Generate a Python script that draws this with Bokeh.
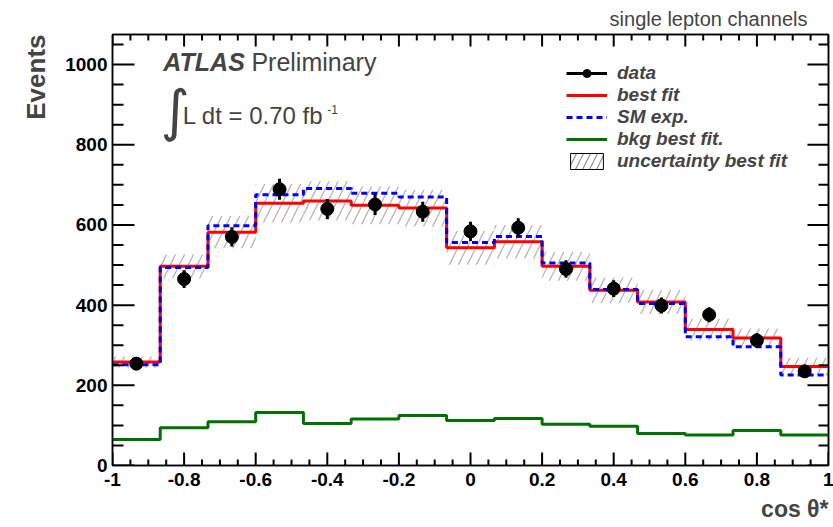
import math
from bokeh.plotting import figure
from bokeh.models import (Range1d, LinearAxis, SingleIntervalTicker, Legend, LegendItem,
                          Label, Title, ColumnDataSource, CustomJSTickFormatter)
from bokeh.embed import file_html
from bokeh.resources import INLINE

# ---- data ----
bin_edges = [-1.0, -0.8667, -0.7333, -0.6, -0.4667, -0.3333, -0.2, -0.0667,
             0.0667, 0.2, 0.3333, 0.4667, 0.6, 0.7333, 0.8667, 1.0]
data = [254, 465, 570, 689, 640, 651, 633, 584, 593, 490, 441, 399, 376, 312, 235]
data_err = [16, 22, 24, 26, 25, 26, 25, 24, 24, 22, 21, 20, 19, 18, 15]
best_fit = [258, 497, 582, 654, 660, 649, 642, 543, 558, 497, 437, 408, 339, 318, 247]
sm_exp = [251, 494, 598, 675, 691, 679, 670, 556, 571, 505, 439, 404, 321, 296, 226]
bkg_fit = [65, 94, 109, 132, 105, 116, 125, 112, 117, 103, 98, 80, 76, 87, 76]
fit_unc = [14, 30, 40, 48, 49, 47, 46, 42, 42, 36, 32, 30, 27, 24, 22]

# tick positions
x_major_ticks = [-1.0, -0.8, -0.6, -0.4, -0.2, 0.0, 0.2, 0.4, 0.6, 0.8, 1.0]
y_major_ticks = [0, 200, 400, 600, 800, 1000]
n_minor = 4

FONT = "Liberation Sans"
X0, X1, Y0, Y1 = -1.0, 1.0, 0.0, 1075.0

lefts = bin_edges[:-1]
rights = bin_edges[1:]
centers = [(a + b) / 2 for a, b in zip(lefts, rights)]

src = ColumnDataSource(dict(
    x=centers, y=data,
    lo=[d - e for d, e in zip(data, data_err)],
    hi=[d + e for d, e in zip(data, data_err)],
))
band_src = ColumnDataSource(dict(
    left=lefts, right=rights,
    bottom=[f - u for f, u in zip(best_fit, fit_unc)],
    top=[f + u for f, u in zip(best_fit, fit_unc)],
))

p = figure(width=833, height=527, x_range=Range1d(X0, X1), y_range=Range1d(Y0, Y1),
           output_backend="svg", toolbar_location=None,
           x_axis_type=None, y_axis_type=None,
           min_border_left=112, min_border_right=5, min_border_top=33, min_border_bottom=62)
p.outline_line_color = "black"
p.outline_line_width = 1.5
p.background_fill_color = "white"
p.border_fill_color = "white"

def make_axis(ticker, labels):
    ax = LinearAxis(ticker=ticker, axis_line_width=1.5,
                    major_tick_in=0, major_tick_out=0, minor_tick_in=0, minor_tick_out=0)
    if labels:
        ax.formatter = CustomJSTickFormatter(code="""
            const s = tick.toFixed(1).replace(/\\.0$/, '');
            return s === '-0' ? '0' : s;""")
        ax.major_label_text_font = FONT
        ax.major_label_text_font_style = "bold"
        ax.major_label_text_font_size = "19px"
        ax.major_label_text_color = "black"
    else:
        ax.formatter = CustomJSTickFormatter(code="return '';")
        ax.major_label_text_font_size = "0px"
        ax.major_label_standoff = 0
    return ax

xb = make_axis(SingleIntervalTicker(interval=0.2, num_minor_ticks=4), True)
xb.major_label_standoff = 7
xt = make_axis(SingleIntervalTicker(interval=0.2, num_minor_ticks=4), False)
yl = make_axis(SingleIntervalTicker(interval=200, num_minor_ticks=4), True)
yl.major_label_standoff = 5
yr = make_axis(SingleIntervalTicker(interval=200, num_minor_ticks=4), False)
p.add_layout(xb, "below")
p.add_layout(xt, "above")
p.add_layout(yl, "left")
p.add_layout(yr, "right")

p.add_layout(Title(text="cos θ*", align="right", text_font=FONT, text_font_style="bold",
                   text_font_size="23px", offset=0), "below")
p.add_layout(Title(text="Events", align="right", text_font=FONT, text_font_style="bold",
                   text_font_size="26px", offset=0, standoff=23), "left")
p.title.text = "single lepton channels"
p.title.align = "right"
p.title.text_font = FONT
p.title.text_font_style = "normal"
p.title.text_font_size = "20px"
p.title.offset = 21

band = p.quad(left="left", right="right", bottom="bottom", top="top", source=band_src,
              fill_alpha=0, line_alpha=0, hatch_pattern="/", hatch_color="#b4b4b4",
              hatch_weight=1.3, hatch_scale=18)
band_leg = p.quad(left="left", right="right", bottom="bottom", top="top", source=band_src,
                  fill_alpha=0, line_color="black", line_width=1, hatch_pattern="/",
                  hatch_color="#909090", hatch_weight=1.2, hatch_scale=14, visible=False)

bkg = p.step(x=bin_edges, y=bkg_fit + [bkg_fit[-1]], mode="after",
             line_color="#007000", line_width=3)
fit = p.step(x=bin_edges, y=best_fit + [best_fit[-1]], mode="after",
             line_color="#ff0000", line_width=3)
sm = p.step(x=bin_edges, y=sm_exp + [sm_exp[-1]], mode="after",
            line_color="#0000ff", line_width=3, line_dash="6 4")

p.segment(x0="x", y0="lo", x1="x", y1="hi", source=src, line_color="black", line_width=3)
pts = p.scatter(x="x", y="y", source=src, size=13, marker="circle",
                fill_color="black", line_color="black")
data_line = p.line(x="x", y="y", source=src, line_color="black", line_width=3, visible=False)

# inward tick marks as "dash" markers centred half a tick length inside the frame
xstep = (x_major_ticks[1] - x_major_ticks[0]) / n_minor
ystep = (y_major_ticks[1] - y_major_ticks[0]) / n_minor
x_minor = [x_major_ticks[0] + i * xstep for i in range(int(round((X1 - X0) / xstep)) + 1)]
x_minor = [v for v in x_minor if all(abs(v - m) > 1e-6 for m in x_major_ticks)]
y_minor = [i * ystep for i in range(int(Y1 // ystep) + 1)]
y_minor = [v for v in y_minor if all(abs(v - m) > 1e-6 for m in y_major_ticks)]
px_y = (Y1 - Y0) / 432.0
px_x = (X1 - X0) / 716.0
tk = dict(x=[], y=[], size=[], angle=[])
for xs, ybase, sgn, length in [(x_major_ticks, Y0, 1, 13), (x_minor, Y0, 1, 6),
                               (x_major_ticks, Y1, -1, 12), (x_minor, Y1, -1, 6)]:
    for v in xs:
        tk["x"].append(v); tk["y"].append(ybase + sgn * length * px_y / 2)
        tk["size"].append(length); tk["angle"].append(math.pi / 2)
for ys, xbase, sgn, length in [(y_major_ticks, X0, 1, 22), (y_minor, X0, 1, 11),
                               (y_major_ticks, X1, -1, 21), (y_minor, X1, -1, 10)]:
    for v in ys:
        tk["y"].append(v); tk["x"].append(xbase + sgn * length * px_x / 2)
        tk["size"].append(length); tk["angle"].append(0.0)
tick_src = ColumnDataSource(tk)
p.scatter(x="x", y="y", size="size", angle="angle", marker="dash", source=tick_src,
          line_color="black", line_width=2)

legend = Legend(items=[
    LegendItem(label="data", renderers=[data_line, pts]),
    LegendItem(label="best fit", renderers=[fit]),
    LegendItem(label="SM exp.", renderers=[sm]),
    LegendItem(label="bkg best fit.", renderers=[bkg]),
    LegendItem(label="uncertainty best fit", renderers=[band_leg]),
], location=(454, 293), orientation="vertical")
legend.label_text_font = FONT
legend.label_text_font_style = "bold italic"
legend.label_text_font_size = "19px"
legend.label_height = 20
legend.glyph_height = 20
legend.glyph_width = 41
legend.label_standoff = 10
legend.spacing = 0
legend.padding = 0
legend.margin = 0
legend.border_line_alpha = 0
legend.background_fill_alpha = 0
p.add_layout(legend, "center")

p.add_layout(Label(x=-0.858, y=1006, text="ATLAS", text_font=FONT, text_font_style="bold italic",
                   text_font_size="25px", text_baseline="alphabetic"))
p.add_layout(Label(x=-0.612, y=1006, text="Preliminary", text_font=FONT,
                   text_font_style="normal", text_font_size="25px", text_baseline="alphabetic"))
p.add_layout(Label(x=-0.866, y=885, text="∫", text_font="DejaVu Sans",
                   text_font_size="56px", text_baseline="middle"))
p.add_layout(Label(x=-0.804, y=874, text="L dt = 0.70 fb", text_font=FONT,
                   text_font_size="24px", text_baseline="alphabetic"))
p.add_layout(Label(x=-0.400, y=889, text="-1", text_font=FONT,
                   text_font_size="12px", text_baseline="alphabetic"))

open("out.html", "w").write(file_html(p, INLINE))
